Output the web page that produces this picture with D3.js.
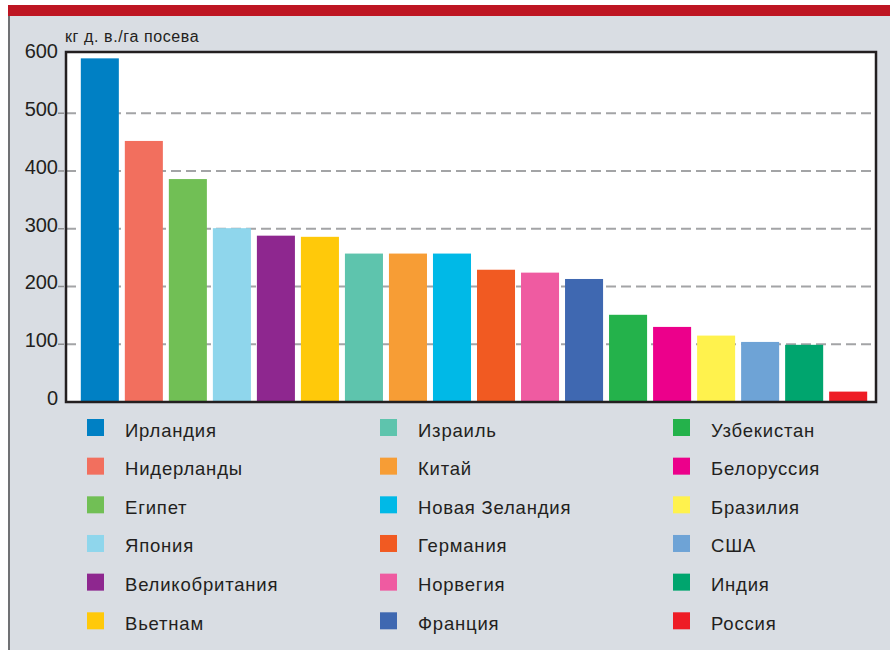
<!DOCTYPE html>
<html>
<head>
<meta charset="utf-8">
<script src="https://cdn.jsdelivr.net/npm/d3@7"></script>
<style>
    body { margin: 0; background: #fff; }
    text { font-family: "Liberation Sans", Arial, sans-serif; fill: #231f20; }
</style>
</head>
<body>
<div id="chart"></div>
<script>

// data
const countries = ["Ирландия", "Нидерланды", "Египет", "Япония", "Великобритания", "Вьетнам",
    "Израиль", "Китай", "Новая Зеландия", "Германия", "Норвегия", "Франция",
    "Узбекистан", "Белоруссия", "Бразилия", "США", "Индия", "Россия"];
const values = [595, 452, 386, 301, 288, 286, 257, 257, 257, 229, 224, 213, 151, 130, 115, 104, 99, 18];
const colors = ["#0080c4", "#f26f5e", "#71bf55", "#8fd6ec", "#8e278f", "#ffc90a",
    "#5ec4ad", "#f79d35", "#00b9e7", "#f15a22", "#ef5ba1", "#3f68b1",
    "#24b24b", "#ec008b", "#fff24d", "#6ea3d6", "#00a56e", "#ee1c25"];
const yTicks = [0, 100, 200, 300, 400, 500, 600];
const gridTicks = [100, 200, 300, 400, 500];
const yTitle = "кг д. в./га посева";


class BarChart {

    constructor(parentElement, width, height) {
        this.parentElement = parentElement;
        this.width = width;
        this.height = height;

        this.initVis();
    }

    initVis() {
        let vis = this;

        vis.plot = {left: 66, right: 876, top: 52, bottom: 402};

        vis.svg = d3.select("#" + vis.parentElement).append("svg")
            .attr("width", vis.width)
            .attr("height", vis.height);

        // page frame: grey panel, red band, dark left rule
        vis.svg.append("rect")
            .attr("x", 9).attr("y", 16)
            .attr("width", vis.width - 9).attr("height", vis.height - 16)
            .attr("fill", "#d9dde3");
        vis.svg.append("rect")
            .attr("x", 8).attr("y", 5)
            .attr("width", vis.width - 8).attr("height", 11)
            .attr("fill", "#be1522");
        vis.svg.append("rect")
            .attr("x", 8).attr("y", 16)
            .attr("width", 2).attr("height", vis.height - 16)
            .attr("fill", "#707174");

        vis.x = d3.scaleBand()
            .domain(countries)
            .range([vis.plot.left + 6, vis.plot.right])
            .paddingInner(0.136)
            .paddingOuter(0.2);

        vis.y = d3.scaleLinear()
            .domain([0, 606])
            .range([vis.plot.bottom, vis.plot.top]);

        vis.updateVis();
    }

    updateVis() {
        let vis = this;
        let p = vis.plot;

        vis.svg.append("rect")
            .attr("x", p.left).attr("y", p.top)
            .attr("width", p.right - p.left).attr("height", p.bottom - p.top)
            .attr("fill", "#fff");

        // gridlines
        vis.svg.selectAll(".grid")
            .data(gridTicks)
            .enter().append("line")
            .attr("class", "grid")
            .attr("x1", p.left)
            .attr("x2", p.right)
            .attr("y1", d => vis.y(d))
            .attr("y2", d => vis.y(d))
            .attr("stroke", "#a3a4a6")
            .attr("stroke-width", 2)
            .attr("stroke-dasharray", "10,5");

        // small outside ticks
        vis.svg.selectAll(".tick")
            .data(gridTicks)
            .enter().append("line")
            .attr("class", "tick")
            .attr("x1", p.left - 8)
            .attr("x2", p.left - 2)
            .attr("y1", d => vis.y(d))
            .attr("y2", d => vis.y(d))
            .attr("stroke", "#8d8e90")
            .attr("stroke-width", 1.5);

        // bars
        vis.svg.selectAll(".bar")
            .data(values)
            .enter().append("rect")
            .attr("class", "bar")
            .attr("x", (d, i) => vis.x(countries[i]))
            .attr("y", d => vis.y(d))
            .attr("width", vis.x.bandwidth())
            .attr("height", d => vis.y(0) - vis.y(d))
            .attr("fill", (d, i) => colors[i]);

        // plot border
        vis.svg.append("rect")
            .attr("x", p.left).attr("y", p.top)
            .attr("width", p.right - p.left).attr("height", p.bottom - p.top)
            .attr("fill", "none")
            .attr("stroke", "#231f20")
            .attr("stroke-width", 2.5);

        // y tick labels
        vis.svg.selectAll(".ytick")
            .data(yTicks)
            .enter().append("text")
            .attr("class", "ytick")
            .attr("x", 58)
            .attr("y", d => vis.y(d) - 4)
            .attr("dy", "0.35em")
            .attr("text-anchor", "end")
            .style("font-size", "20px")
            .text(d => d);

        vis.svg.append("text")
            .attr("x", 65)
            .attr("y", 42)
            .style("font-size", "16px")
            .style("letter-spacing", "0.6px")
            .text(yTitle);

        // legend, 3 columns x 6 rows
        let colX = d3.scaleLinear().domain([0, 1]).range([87, 380]);
        let rowY = d3.scaleLinear().domain([0, 1]).range([419, 457.66]);

        let legend = vis.svg.selectAll(".legend")
            .data(countries)
            .enter().append("g")
            .attr("class", "legend")
            .attr("transform", (d, i) => "translate(" + colX(Math.floor(i / 6)) + "," + rowY(i % 6) + ")");

        legend.append("rect")
            .attr("width", 17)
            .attr("height", 17)
            .attr("fill", (d, i) => colors[i]);

        legend.append("text")
            .attr("x", 38)
            .attr("y", 17.5)
            .style("font-size", "18.5px")
            .style("letter-spacing", "0.8px")
            .text(d => d);
    }
}

new BarChart("chart", 890, 650);

</script>
</body>
</html>
